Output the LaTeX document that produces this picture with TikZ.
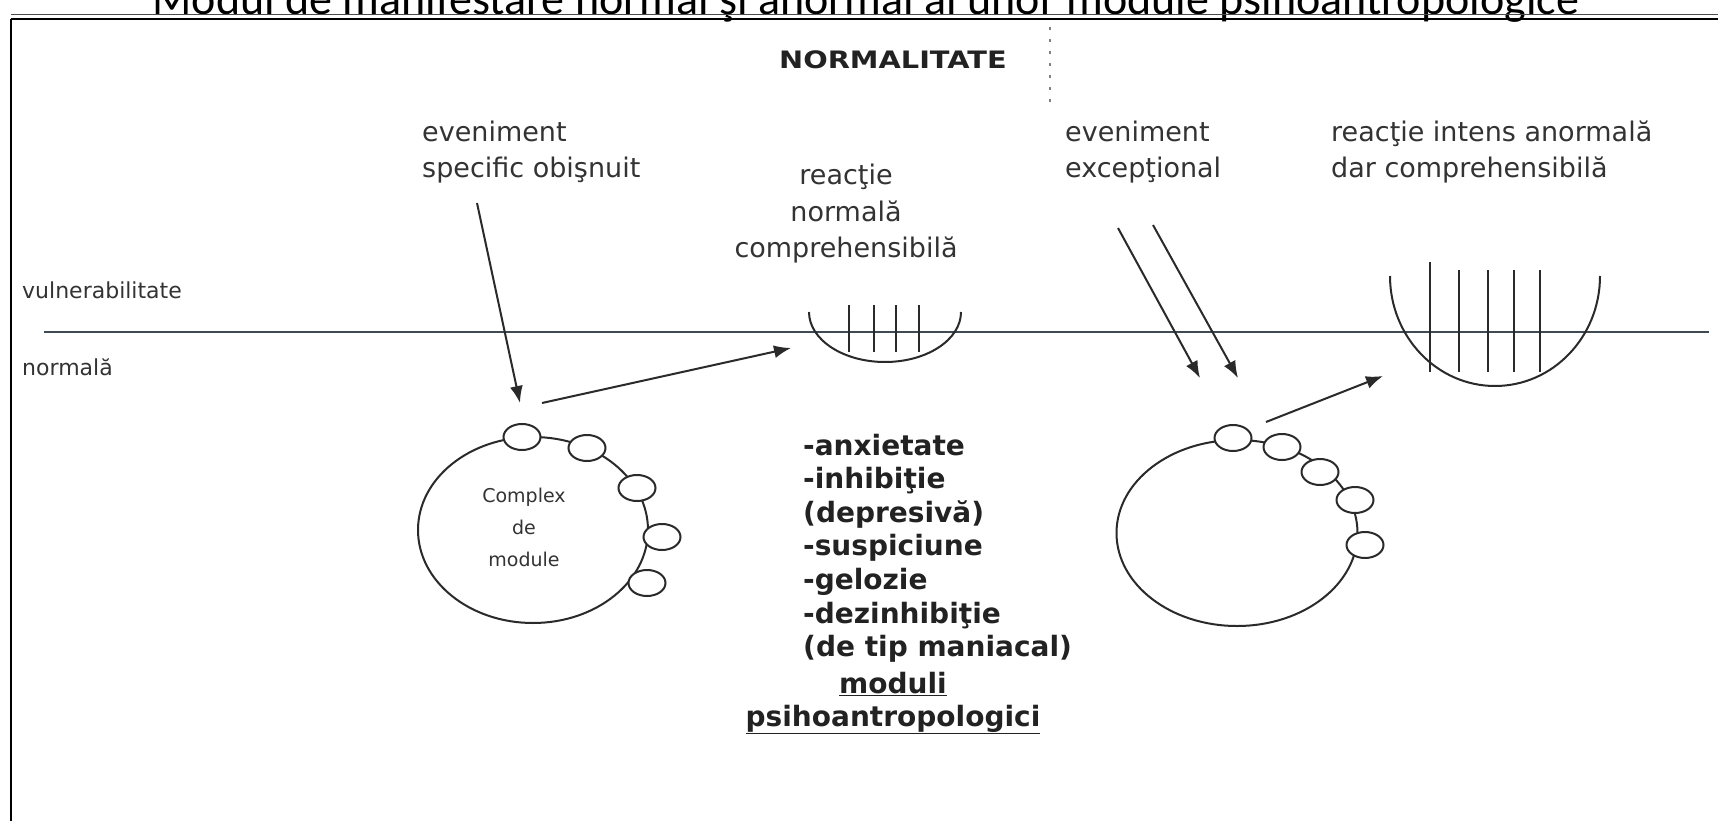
\documentclass[tikz,border=0pt]{standalone}
\usepackage{fontspec}
\setmainfont{DejaVu Sans}
\newfontfamily\titlefont{Carlito}
\usetikzlibrary{arrows.meta,shapes.geometric}
\definecolor{txt}{HTML}{333333}
\definecolor{txtd}{HTML}{222222}
\definecolor{ln}{HTML}{2A2A2A}
\definecolor{hl}{HTML}{3E4A54}
\tikzset{
  lbl/.style={font=\fontsize{27}{36.5}\selectfont, text=txt, inner sep=0pt},
  sidelbl/.style={font=\fontsize{22}{25}\selectfont, text=txt, inner sep=0pt},
  listlbl/.style={font=\bfseries\fontsize{28}{33.6}\selectfont, text=txtd, inner sep=0pt},
  inlbl/.style={font=\fontsize{19}{32}\selectfont, text=txt, inner sep=0pt},
  conn/.style={draw=ln, line width=2pt, -{Latex[length=17pt,width=13pt]}},
  smallmod/.style={ellipse, draw=ln, line width=2pt, fill=white, minimum width=37pt, minimum height=26pt, inner sep=0pt},
  bigmod/.style={ellipse, draw=ln, line width=2pt, inner sep=0pt},
  bowlline/.style={draw=ln, line width=2pt},
}
\begin{document}
\begin{tikzpicture}[x=1pt,y=-1pt]
\useasboundingbox (0,0) rectangle (1718,821);
\fill[white] (0,0) rectangle (1718,821);

% title (cut at the top edge, as in the reference)
\node[anchor=base, font=\titlefont\fontsize{46}{52}\selectfont, inner sep=0pt] (title) at (866,15)
  {Modul de manifestare normal şi anormal al unor module psihoantropologice};

% frame
\coordinate (ftl) at (11,19);
\coordinate (ftr) at (1718,19);
\coordinate (fbl) at (11,821);
\draw[line width=1.6pt, black] (ftl) -- (ftr);
\draw[line width=1pt, black!70] ([yshift=4pt]ftl) -- ([yshift=4pt]ftr);
\draw[line width=2.5pt, black] (ftl) -- (fbl);

% faint dotted mark
\coordinate (dt) at (1050,27);
\coordinate (db) at (1050,104);
\draw[gray, line width=2pt, dash pattern=on 3pt off 9pt] (dt) -- (db);

% header
\node[font=\bfseries\fontsize{24}{28}\selectfont, text=txtd, inner sep=0pt] (norm) at (893,60)
  {\scalebox{1.2}[1]{NORMALITATE}};

% top labels
\node[lbl, anchor=west, align=left] (ev1) at (422,152) {eveniment\\specific obişnuit};
\node[lbl, anchor=center, align=center] (r1) at (846,214) {reacţie\\normală\\comprehensibilă};
\node[lbl, anchor=west, align=left] (ev2) at (1065,152) {eveniment\\excepţional};
\node[lbl, anchor=west, align=left] (r2) at (1331,152) {reacţie intens anormală\\dar comprehensibilă};

% side labels
\node[sidelbl, anchor=west] (vul) at (22,290) {vulnerabilitate};
\node[sidelbl, anchor=west] (nor) at (22,367) {normală};

% threshold line
\coordinate (hl1) at (44,332);
\coordinate (hl2) at (1709,332);
\draw[draw=hl, line width=2.2pt] (hl1) -- (hl2);

% small bowl
\draw[bowlline] (809,312) .. controls (809,339.6) and (843,362) .. (885,362)
                          .. controls (927,362) and (961,339.6) .. (961,312);
\foreach \xx in {849,874,896,919} { \draw[bowlline] (\xx,305) -- (\xx,352); }

% big bowl
\draw[bowlline] (1390,276) .. controls (1390,336.8) and (1437,386) .. (1495,386)
                           .. controls (1553,386) and (1600,336.8) .. (1600,276);
\draw[bowlline] (1430,262) -- (1430,372);
\foreach \xx in {1459,1488,1514,1540} { \draw[bowlline] (\xx,270) -- (\xx,372); }

% left module complex
\node[bigmod, minimum width=230pt, minimum height=186pt] (cplx1) at (533,530) {};
\node[smallmod] (m11) at (522,437) {};
\node[smallmod] (m12) at (587,448) {};
\node[smallmod] (m13) at (637,488) {};
\node[smallmod] (m14) at (662,537) {};
\node[smallmod] (m15) at (647,583) {};
\node[inlbl, align=center] (cplxt) at (524,527) {Complex\\de\\module};

% right module complex
\node[bigmod, minimum width=241pt, minimum height=186pt] (cplx2) at (1237,533) {};
\node[smallmod] (m21) at (1233,438) {};
\node[smallmod] (m22) at (1282,447) {};
\node[smallmod] (m23) at (1320,472) {};
\node[smallmod] (m24) at (1355,500) {};
\node[smallmod] (m25) at (1365,545) {};

% arrows
\coordinate (a1s) at (477,203); \coordinate (a1e) at (520,403);
\coordinate (a2s) at (542,403); \coordinate (a2e) at (791,348);
\coordinate (a3s) at (1118,228); \coordinate (a3e) at (1200,378);
\coordinate (a4s) at (1153,225); \coordinate (a4e) at (1238,378);
\coordinate (a5s) at (1266,422); \coordinate (a5e) at (1383,376);
\draw[conn] (a1s) -- (a1e);
\draw[conn] (a2s) -- (a2e);
\draw[conn] (a3s) -- (a3e);
\draw[conn] (a4s) -- (a4e);
\draw[conn] (a5s) -- (a5e);

% list of psycho-anthropological modules
\foreach \t [count=\i] in {-anxietate,-inhibiţie,(depresivă),-suspiciune,-gelozie,-dezinhibiţie,(de tip maniacal)}
  { \node[listlbl, anchor=base west] (l\i) at (803,{455+(\i-1)*33.6}) {\t}; }
\node[listlbl, anchor=base] (mod) at (893,693) {\underline{moduli}};
\node[listlbl, anchor=base] (psi) at (893,726) {\underline{psihoantropologici}};
\end{tikzpicture}
\end{document}
